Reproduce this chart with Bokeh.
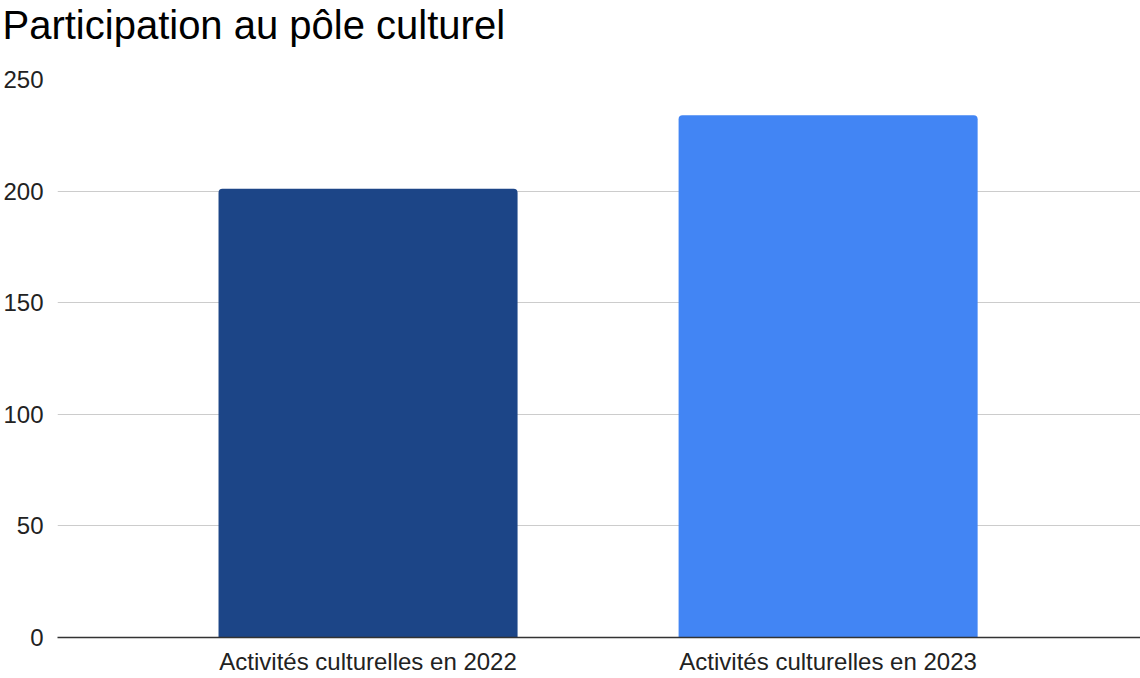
from bokeh.plotting import figure
from bokeh.models import ColumnDataSource, Range1d, FixedTicker
from bokeh.embed import file_html
from bokeh.resources import INLINE

title = "Participation au pôle culturel"
categories = ["Activités culturelles en 2022", "Activités culturelles en 2023"]
values = [201, 234]
colors = ["#1c4587", "#4285f4"]
y_ticks = [0, 50, 100, 150, 200, 250]

xs = list(range(len(categories)))
source = ColumnDataSource(dict(x=xs, top=values, color=colors, name=categories))

p = figure(width=1140, height=678, output_backend="svg", toolbar_location=None,
           x_range=Range1d(-0.675, len(categories) - 1 + 0.679), y_range=Range1d(0, 250),
           min_border_left=57, min_border_right=0, min_border_top=79, min_border_bottom=41)

p.vbar(x="x", top="top", bottom=0, width=0.65, color="color", source=source,
       line_color=None, border_radius=(4, 4, 0, 0))

p.title.text = title
p.title.text_font = "Liberation Sans"
p.title.text_font_size = "40px"
p.title.text_font_style = "normal"
p.title.text_color = "#000000"
p.title.align = "left"
p.title.offset = -55
p.title.standoff = 0
p.title.padding = dict(left=0, right=0, top=0, bottom=33)

p.outline_line_color = None
p.background_fill_color = "white"
p.border_fill_color = "white"

p.xgrid.grid_line_color = None
p.ygrid.grid_line_color = "#cccccc"
p.ygrid.grid_line_width = 1
p.yaxis.ticker = FixedTicker(ticks=y_ticks)

p.xaxis.ticker = FixedTicker(ticks=xs)
p.xaxis.major_label_overrides = {i: c for i, c in zip(xs, categories)}
p.xaxis.axis_line_color = "#333333"
p.xaxis.axis_line_width = 1.5
p.xaxis.major_tick_line_color = None
p.xaxis.minor_tick_line_color = None
p.xaxis.major_tick_out = 0
p.xaxis.major_tick_in = 0
p.xaxis.major_label_standoff = 10

p.yaxis.axis_line_color = None
p.yaxis.major_tick_line_color = None
p.yaxis.minor_tick_line_color = None
p.yaxis.major_tick_out = 0
p.yaxis.major_tick_in = 0
p.yaxis.major_label_standoff = 14

for ax in (p.xaxis, p.yaxis):
    ax.major_label_text_font = "Liberation Sans"
    ax.major_label_text_font_size = "24px"
    ax.major_label_text_color = "#222222"

open("out.html", "w").write(file_html(p, INLINE))
